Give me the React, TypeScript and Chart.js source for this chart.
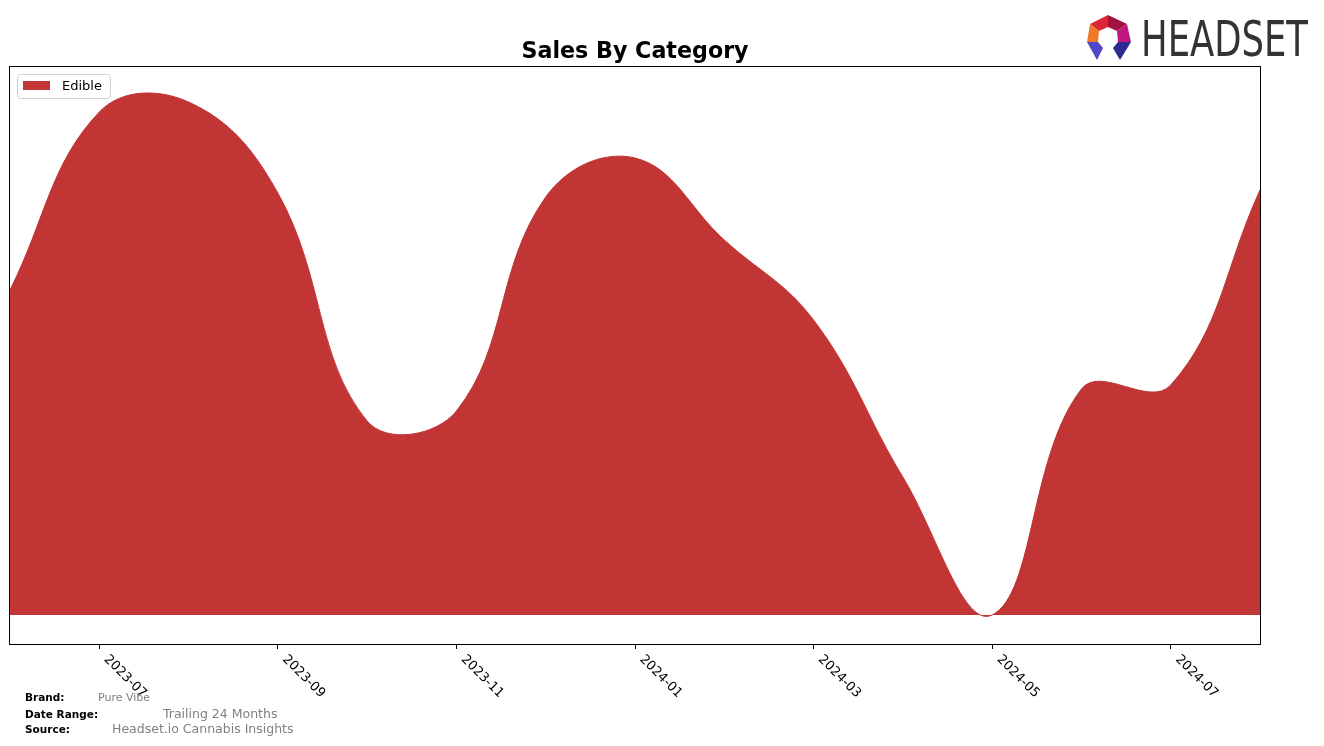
import React, { useEffect, useRef } from "react";
import { Chart, registerables } from "chart.js";

Chart.register(...registerables);

const months = [
  "2023-06", "2023-07", "2023-08", "2023-09", "2023-10", "2023-11", "2023-12",
  "2024-01", "2024-02", "2024-03", "2024-04", "2024-05", "2024-06", "2024-07", "2024-08",
];
const edibleSales = [325, 503, 513, 422, 194, 204, 418, 457, 375, 295, 138, 0, 226, 230, 425];
const seriesName = "Edible";
const chartTitle = "Sales By Category";
const footerLabels = ["Brand:", "Date Range:", "Source:"];
const footerValues = ["Pure Vibe", "Trailing 24 Months", "Headset.io Cannabis Insights"];

const FILL = "rgb(193,53,53)";
const FONT = "'DejaVu Sans', 'Noto Sans', sans-serif";

const decor = {
  id: "decor",
  afterDraw(chart: any) {
    const { ctx, chartArea } = chart;
    const { left, top, right, bottom } = chartArea;
    const xs = chart.scales.x;
    ctx.save();
    // frame
    ctx.strokeStyle = "#000";
    ctx.lineWidth = 1;
    ctx.strokeRect(Math.round(left) - 0.5, Math.round(top) - 0.5, Math.round(right - left) + 1, Math.round(bottom - top) + 1);
    // title
    ctx.fillStyle = "#000";
    ctx.font = `bold 22.2px ${FONT}`;
    ctx.textAlign = "center";
    ctx.textBaseline = "alphabetic";
    ctx.fillText(chartTitle, (left + right) / 2, 58);
    // legend
    const lx = left + 7, ly = top + 7, lw = 93, lh = 24;
    ctx.beginPath();
    ctx.roundRect(lx + 0.5, ly + 0.5, lw, lh, 3);
    ctx.fillStyle = "rgba(255,255,255,0.85)";
    ctx.fill();
    ctx.strokeStyle = "#d0d0d0";
    ctx.stroke();
    ctx.fillStyle = FILL;
    ctx.fillRect(lx + 6, ly + 7, 27, 9);
    ctx.fillStyle = "#000";
    ctx.font = `13px ${FONT}`;
    ctx.textAlign = "left";
    ctx.fillText(seriesName, lx + 45, ly + 16);
    // x tick labels, rotated
    ctx.font = `13px ${FONT}`;
    ctx.fillStyle = "#000";
    ctx.textBaseline = "top";
    months.forEach((m, i) => {
      if (i % 2 !== 1) return;
      const px = xs.getPixelForValue(i);
      ctx.save();
      ctx.translate(px + 7, bottom + 13);
      ctx.rotate(Math.PI / 4);
      ctx.fillText(m, 0, -6);
      ctx.restore();
    });
    // footer
    ctx.textBaseline = "alphabetic";
    const ys = [701, 718, 733];
    const vx = [98, 163, 112];
    const vsize = [11, 12.5, 12.5];
    footerLabels.forEach((lab, i) => {
      ctx.fillStyle = "#000";
      ctx.font = `bold 10.5px ${FONT}`;
      ctx.fillText(lab, 25, ys[i]);
      ctx.fillStyle = "#808080";
      ctx.font = `${vsize[i]}px ${FONT}`;
      ctx.fillText(footerValues[i], vx[i], ys[i]);
    });
    ctx.restore();
  },
};

function Logo() {
  const o = (pts: number[][]) => pts.map(([x, y]) => `${x - 1084},${y - 13}`).join(" ");
  return (
    <svg width={230} height={52} style={{ position: "absolute", left: 1084, top: 13 }}>
      <polygon points={o([[1108, 15], [1090, 24], [1099, 31], [1108, 27]])} fill="#DD2736" />
      <polygon points={o([[1108, 15], [1127, 24], [1117, 31], [1108, 27]])} fill="#A3123F" />
      <polygon points={o([[1090, 24], [1087, 42], [1098, 42], [1099, 31]])} fill="#F07A2A" />
      <polygon points={o([[1127, 24], [1131, 42], [1118, 42], [1117, 31]])} fill="#C0177F" />
      <polygon points={o([[1087, 42], [1098, 42], [1103, 48], [1097, 60]])} fill="#5048C9" />
      <polygon points={o([[1118, 42], [1131, 42], [1120, 60], [1113, 48]])} fill="#2C2A8E" />
      <text
        x={1141 - 1084}
        y={56 - 13}
        fontFamily="'DejaVu Sans', sans-serif"
        fontSize={49}
        fill="#333333"
        textLength={167}
        lengthAdjust="spacingAndGlyphs"
      >
        HEADSET
      </text>
    </svg>
  );
}

export default function App() {
  const ref = useRef<HTMLCanvasElement | null>(null);
  useEffect(() => {
    if (!ref.current) return;
    const chart = new Chart(ref.current, {
      type: "line",
      data: {
        labels: months,
        datasets: [
          {
            label: seriesName,
            data: edibleSales,
            fill: "origin",
            backgroundColor: FILL,
            borderColor: FILL,
            borderWidth: 1,
            pointRadius: 0,
            tension: 0.4,
          },
        ],
      },
      options: {
        animation: false,
        responsive: false,
        devicePixelRatio: 1,
        layout: { padding: { left: 10, right: 64, top: 67, bottom: 92 } },
        plugins: { legend: { display: false }, title: { display: false }, tooltip: { enabled: false } },
        scales: {
          x: {
            type: "category",
            offset: false,
            border: { display: false },
            grid: { display: true, drawOnChartArea: false, drawTicks: true, tickLength: 5, color: "#000" },
            ticks: {
              autoSkip: false,
              maxRotation: 0,
              minRotation: 0,
              color: "rgba(0,0,0,0)",
              callback: (_v: any, i: number) => (i % 2 === 1 ? months[i] : null),
            },
            afterFit: (s: any) => {
              s.height = 10;
            },
          },
          y: { display: false, min: -29, max: 548 },
        },
      },
      plugins: [decor],
    });
    return () => chart.destroy();
  }, []);
  return (
    <div style={{ position: "fixed", left: 0, top: 0, width: 1324, height: 746, background: "#fff" }}>
      <canvas ref={ref} width={1324} height={746} style={{ width: 1324, height: 746 }} />
      <Logo />
    </div>
  );
}
